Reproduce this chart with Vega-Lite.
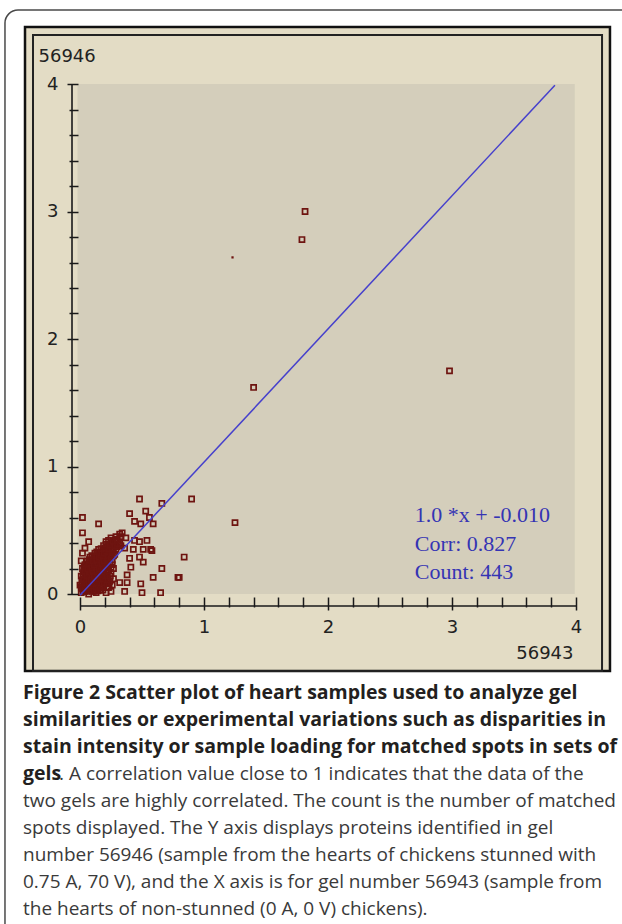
{
  "$schema": "https://vega.github.io/schema/vega-lite/v6.json",
  "width": 496,
  "height": 510,
  "autosize": {"type": "none"},
  "padding": {"left": 80, "top": 84, "right": 46, "bottom": 330},
  "background": "#ffffff",
  "config": {"view": {"stroke": null}},
  "title": {
    "text": [
      "Figure 2 Scatter plot of heart samples used to analyze gel",
      "similarities or experimental variations such as disparities in",
      "stain intensity or sample loading for matched spots in sets of",
      "gels"
    ],
    "subtitle": [
      "two gels are highly correlated. The count is the number of matched",
      "spots displayed. The Y axis displays proteins identified in gel",
      "number 56946 (sample from the hearts of chickens stunned with",
      "0.75 A, 70 V), and the X axis is for gel number 56943 (sample from",
      "the hearts of non-stunned (0 A, 0 V) chickens)."
    ],
    "orient": "bottom",
    "anchor": "start",
    "frame": "group",
    "offset": -260.75,
    "dx": -57,
    "baseline": "top",
    "font": "Open Sans",
    "fontSize": 19.5,
    "fontWeight": "bold",
    "color": "#231f20",
    "lineHeight": 27,
    "subtitleFont": "Open Sans",
    "subtitleFontSize": 19,
    "subtitleFontWeight": "normal",
    "subtitleColor": "#3a3a3a",
    "subtitleLineHeight": 27,
    "subtitlePadding": 7.5
  },
  "datasets": {
    "spots": [
      {"x": 0.01, "y": 0.01}, {"x": 0.04, "y": 0.02}, {"x": 0.07, "y": 0.0}, {"x": 0.1, "y": 0.02}, {"x": 0.13, "y": 0.01}, {"x": 0.16, "y": 0.03}, {"x": 0.21, "y": 0.01}, {"x": 0.25, "y": 0.02},
      {"x": 0.02, "y": 0.04}, {"x": 0.05, "y": 0.05}, {"x": 0.08, "y": 0.03}, {"x": 0.11, "y": 0.05}, {"x": 0.14, "y": 0.04}, {"x": 0.17, "y": 0.06}, {"x": 0.23, "y": 0.05},
      {"x": 0.0, "y": 0.07}, {"x": 0.03, "y": 0.08}, {"x": 0.06, "y": 0.07}, {"x": 0.09, "y": 0.08}, {"x": 0.12, "y": 0.07}, {"x": 0.15, "y": 0.09}, {"x": 0.18, "y": 0.07}, {"x": 0.21, "y": 0.08}, {"x": 0.26, "y": 0.07},
      {"x": 0.02, "y": 0.11}, {"x": 0.05, "y": 0.1}, {"x": 0.08, "y": 0.11}, {"x": 0.11, "y": 0.1}, {"x": 0.14, "y": 0.12}, {"x": 0.17, "y": 0.1}, {"x": 0.2, "y": 0.11}, {"x": 0.24, "y": 0.1},
      {"x": 0.01, "y": 0.14}, {"x": 0.04, "y": 0.13}, {"x": 0.07, "y": 0.14}, {"x": 0.1, "y": 0.13}, {"x": 0.13, "y": 0.15}, {"x": 0.16, "y": 0.13}, {"x": 0.19, "y": 0.14}, {"x": 0.22, "y": 0.13}, {"x": 0.27, "y": 0.12},
      {"x": 0.03, "y": 0.17}, {"x": 0.06, "y": 0.16}, {"x": 0.09, "y": 0.17}, {"x": 0.12, "y": 0.16}, {"x": 0.15, "y": 0.18}, {"x": 0.18, "y": 0.16}, {"x": 0.21, "y": 0.17}, {"x": 0.25, "y": 0.16},
      {"x": 0.02, "y": 0.2}, {"x": 0.05, "y": 0.19}, {"x": 0.08, "y": 0.21}, {"x": 0.11, "y": 0.19}, {"x": 0.14, "y": 0.2}, {"x": 0.17, "y": 0.19}, {"x": 0.2, "y": 0.21}, {"x": 0.23, "y": 0.19}, {"x": 0.27, "y": 0.2},
      {"x": 0.04, "y": 0.23}, {"x": 0.07, "y": 0.22}, {"x": 0.1, "y": 0.24}, {"x": 0.13, "y": 0.22}, {"x": 0.16, "y": 0.23}, {"x": 0.19, "y": 0.22}, {"x": 0.22, "y": 0.24}, {"x": 0.26, "y": 0.23},
      {"x": 0.06, "y": 0.26}, {"x": 0.09, "y": 0.25}, {"x": 0.12, "y": 0.27}, {"x": 0.15, "y": 0.25}, {"x": 0.18, "y": 0.26}, {"x": 0.21, "y": 0.25}, {"x": 0.24, "y": 0.27},
      {"x": 0.08, "y": 0.29}, {"x": 0.11, "y": 0.28}, {"x": 0.14, "y": 0.3}, {"x": 0.17, "y": 0.28}, {"x": 0.2, "y": 0.29}, {"x": 0.23, "y": 0.28}, {"x": 0.27, "y": 0.3},
      {"x": 0.12, "y": 0.32}, {"x": 0.15, "y": 0.31}, {"x": 0.18, "y": 0.33}, {"x": 0.21, "y": 0.31}, {"x": 0.24, "y": 0.32}, {"x": 0.28, "y": 0.31},
      {"x": 0.15, "y": 0.35}, {"x": 0.19, "y": 0.34}, {"x": 0.22, "y": 0.36}, {"x": 0.25, "y": 0.34}, {"x": 0.29, "y": 0.35},
      {"x": 0.19, "y": 0.38}, {"x": 0.23, "y": 0.37}, {"x": 0.26, "y": 0.39}, {"x": 0.3, "y": 0.37}, {"x": 0.33, "y": 0.38},
      {"x": 0.21, "y": 0.41}, {"x": 0.25, "y": 0.4}, {"x": 0.28, "y": 0.42}, {"x": 0.32, "y": 0.4},
      {"x": 0.25, "y": 0.44}, {"x": 0.29, "y": 0.43}, {"x": 0.33, "y": 0.45},
      {"x": 0.025, "y": 0.025}, {"x": 0.055, "y": 0.02}, {"x": 0.085, "y": 0.03}, {"x": 0.115, "y": 0.02}, {"x": 0.145, "y": 0.025}, {"x": 0.185, "y": 0.03},
      {"x": 0.01, "y": 0.055}, {"x": 0.04, "y": 0.06}, {"x": 0.07, "y": 0.05}, {"x": 0.1, "y": 0.06}, {"x": 0.13, "y": 0.055}, {"x": 0.16, "y": 0.05}, {"x": 0.19, "y": 0.06}, {"x": 0.22, "y": 0.055},
      {"x": 0.015, "y": 0.09}, {"x": 0.045, "y": 0.085}, {"x": 0.075, "y": 0.09}, {"x": 0.105, "y": 0.08}, {"x": 0.135, "y": 0.09}, {"x": 0.165, "y": 0.085}, {"x": 0.195, "y": 0.09}, {"x": 0.235, "y": 0.08},
      {"x": 0.03, "y": 0.115}, {"x": 0.06, "y": 0.12}, {"x": 0.09, "y": 0.11}, {"x": 0.12, "y": 0.12}, {"x": 0.155, "y": 0.115}, {"x": 0.185, "y": 0.12}, {"x": 0.215, "y": 0.11},
      {"x": 0.025, "y": 0.15}, {"x": 0.055, "y": 0.14}, {"x": 0.085, "y": 0.15}, {"x": 0.115, "y": 0.145}, {"x": 0.145, "y": 0.14}, {"x": 0.175, "y": 0.15}, {"x": 0.205, "y": 0.145}, {"x": 0.245, "y": 0.14},
      {"x": 0.04, "y": 0.18}, {"x": 0.075, "y": 0.175}, {"x": 0.105, "y": 0.18}, {"x": 0.135, "y": 0.17}, {"x": 0.165, "y": 0.18}, {"x": 0.195, "y": 0.175}, {"x": 0.23, "y": 0.18},
      {"x": 0.035, "y": 0.21}, {"x": 0.065, "y": 0.2}, {"x": 0.095, "y": 0.205}, {"x": 0.125, "y": 0.21}, {"x": 0.155, "y": 0.2}, {"x": 0.185, "y": 0.21}, {"x": 0.215, "y": 0.205}, {"x": 0.25, "y": 0.21},
      {"x": 0.055, "y": 0.235}, {"x": 0.085, "y": 0.24}, {"x": 0.115, "y": 0.23}, {"x": 0.145, "y": 0.24}, {"x": 0.175, "y": 0.235}, {"x": 0.205, "y": 0.24}, {"x": 0.24, "y": 0.23},
      {"x": 0.075, "y": 0.27}, {"x": 0.105, "y": 0.26}, {"x": 0.135, "y": 0.265}, {"x": 0.165, "y": 0.27}, {"x": 0.195, "y": 0.26}, {"x": 0.225, "y": 0.27}, {"x": 0.26, "y": 0.265},
      {"x": 0.095, "y": 0.3}, {"x": 0.125, "y": 0.295}, {"x": 0.155, "y": 0.29}, {"x": 0.185, "y": 0.3}, {"x": 0.215, "y": 0.295}, {"x": 0.25, "y": 0.29},
      {"x": 0.135, "y": 0.33}, {"x": 0.165, "y": 0.325}, {"x": 0.195, "y": 0.32}, {"x": 0.225, "y": 0.33}, {"x": 0.26, "y": 0.325},
      {"x": 0.17, "y": 0.355}, {"x": 0.205, "y": 0.36}, {"x": 0.235, "y": 0.35}, {"x": 0.27, "y": 0.36},
      {"x": 0.21, "y": 0.39}, {"x": 0.245, "y": 0.385}, {"x": 0.28, "y": 0.38}, {"x": 0.31, "y": 0.39},
      {"x": 0.23, "y": 0.42}, {"x": 0.265, "y": 0.415}, {"x": 0.3, "y": 0.42},
      {"x": 0.01, "y": 0.26}, {"x": 0.02, "y": 0.32}, {"x": 0.04, "y": 0.36}, {"x": 0.34, "y": 0.48}, {"x": 0.37, "y": 0.44}, {"x": 0.36, "y": 0.36},
      {"x": 0.02, "y": 0.6}, {"x": 0.15, "y": 0.55}, {"x": 0.02, "y": 0.48}, {"x": 0.07, "y": 0.41},
      {"x": 0.4, "y": 0.63}, {"x": 0.53, "y": 0.65}, {"x": 0.44, "y": 0.57}, {"x": 0.49, "y": 0.55}, {"x": 0.56, "y": 0.6}, {"x": 0.59, "y": 0.55},
      {"x": 0.32, "y": 0.47}, {"x": 0.29, "y": 0.45}, {"x": 0.44, "y": 0.42}, {"x": 0.48, "y": 0.41}, {"x": 0.54, "y": 0.42},
      {"x": 0.43, "y": 0.35}, {"x": 0.51, "y": 0.35}, {"x": 0.57, "y": 0.35}, {"x": 0.4, "y": 0.28}, {"x": 0.48, "y": 0.29}, {"x": 0.51, "y": 0.25},
      {"x": 0.41, "y": 0.21}, {"x": 0.66, "y": 0.2}, {"x": 0.84, "y": 0.29}, {"x": 0.79, "y": 0.13}, {"x": 0.59, "y": 0.13}, {"x": 0.38, "y": 0.15},
      {"x": 0.49, "y": 0.08}, {"x": 0.5, "y": 0.01}, {"x": 0.65, "y": 0.01}, {"x": 0.38, "y": 0.09}, {"x": 0.36, "y": 0.02}, {"x": 0.32, "y": 0.09},
      {"x": 0.48, "y": 0.745}, {"x": 0.66, "y": 0.71}, {"x": 0.9, "y": 0.745}, {"x": 1.25, "y": 0.56}, {"x": 0.58, "y": 0.34}, {"x": 0.8, "y": 0.13},
      {"x": 1.4, "y": 1.62}, {"x": 1.79, "y": 2.78}, {"x": 1.815, "y": 3.0}, {"x": 2.98, "y": 1.75}
    ],
    "fit": [{"x": 0, "y": -0.01}, {"x": 3.83, "y": 3.99}],
    "faint": [{"x": 1.23, "y": 2.64}]
  },
  "layer": [
    {
      "data": {"values": [{}]},
      "mark": {"type": "rect", "cornerRadius": 13, "fill": "#ffffff", "fillOpacity": 0, "stroke": "#4a4a4a", "strokeWidth": 1.5},
      "encoding": {
        "x": {"datum": -0.605, "type": "quantitative", "scale": {"domain": [0, 4], "nice": false, "zero": false}},
        "x2": {"datum": 4.6},
        "y": {"datum": 4.58, "type": "quantitative", "scale": {"domain": [0, 4], "nice": false, "zero": false}},
        "y2": {"datum": -2.745}
      }
    },
    {
      "data": {"values": [{}]},
      "mark": {"type": "rect", "fill": "#e3dcc5", "stroke": "#111111", "strokeWidth": 2.5},
      "encoding": {
        "x": {"datum": -0.4435, "type": "quantitative", "scale": {"domain": [0, 4], "nice": false, "zero": false}},
        "x2": {"datum": 4.274},
        "y": {"datum": 4.447, "type": "quantitative", "scale": {"domain": [0, 4], "nice": false, "zero": false}},
        "y2": {"datum": -0.604}
      }
    },
    {
      "data": {"values": [{}]},
      "mark": {"type": "rect", "fill": "#ffffff", "fillOpacity": 0, "stroke": "#222222", "strokeWidth": 2},
      "encoding": {
        "x": {"datum": -0.379, "type": "quantitative", "scale": {"domain": [0, 4], "nice": false, "zero": false}},
        "x2": {"datum": 4.21},
        "y": {"datum": 4.384, "type": "quantitative", "scale": {"domain": [0, 4], "nice": false, "zero": false}},
        "y2": {"datum": -0.604}
      }
    },
    {
      "data": {"values": [{}]},
      "mark": {"type": "rect", "fill": "#d4cebb"},
      "encoding": {
        "x": {"datum": -0.02, "type": "quantitative", "scale": {"domain": [0, 4], "nice": false, "zero": false}},
        "x2": {"datum": 3.99},
        "y": {"datum": 4.0, "type": "quantitative", "scale": {"domain": [0, 4], "nice": false, "zero": false}},
        "y2": {"datum": 0.0}
      }
    },
    {
      "data": {"values": [{}]},
      "mark": {"type": "rule", "color": "#1a1a1a", "strokeWidth": 1.6},
      "encoding": {
        "x": {"datum": -0.0645, "type": "quantitative", "scale": {"domain": [0, 4], "nice": false, "zero": false}},
        "y": {"datum": 0, "type": "quantitative", "scale": {"domain": [0, 4], "nice": false, "zero": false}},
        "y2": {"datum": 4}
      }
    },
    {
      "data": {"values": [{}]},
      "mark": {"type": "rule", "color": "#1a1a1a", "strokeWidth": 1.6},
      "encoding": {
        "x": {"datum": 0, "type": "quantitative", "scale": {"domain": [0, 4], "nice": false, "zero": false}},
        "x2": {"datum": 4},
        "y": {"datum": -0.094, "type": "quantitative", "scale": {"domain": [0, 4], "nice": false, "zero": false}}
      }
    },
    {
      "data": {"name": "spots"},
      "mark": {"type": "point", "shape": "square", "filled": false, "size": 26, "strokeWidth": 1.7, "color": "#6e1410", "opacity": 1},
      "encoding": {
        "x": {
          "field": "x", "type": "quantitative",
          "scale": {"domain": [0, 4], "nice": false, "zero": false},
          "axis": {
            "values": [0, 0.2, 0.4, 0.6, 0.8, 1, 1.2, 1.4, 1.6, 1.8, 2, 2.2, 2.4, 2.6, 2.8, 3, 3.2, 3.4, 3.6, 3.8, 4],
            "tickCount": 30,
            "labelExpr": "abs(datum.value - round(datum.value)) < 0.001 ? format(datum.value, 'd') : ''",
            "domain": false, "grid": false, "offset": 3,
            "tickColor": "#1a1a1a", "tickWidth": 1.5,
            "tickSize": {"condition": {"test": "abs(datum.value - round(datum.value)) < 0.001", "value": 13}, "value": 10},
            "labelFont": "DejaVu Sans", "labelFontSize": 18, "labelColor": "#222222", "labelPadding": 8,
            "labelFlush": false, "labelOverlap": false, "labelBound": false,
            "title": "56943", "titleX": 493, "titleY": 47, "titleAlign": "right", "titleBaseline": "top",
            "titleFont": "DejaVu Sans", "titleFontSize": 18, "titleFontWeight": "normal", "titleColor": "#222222",
            "zindex": 1
          }
        },
        "y": {
          "field": "y", "type": "quantitative",
          "scale": {"domain": [0, 4], "nice": false, "zero": false},
          "axis": {
            "values": [0, 0.2, 0.4, 0.6, 0.8, 1, 1.2, 1.4, 1.6, 1.8, 2, 2.2, 2.4, 2.6, 2.8, 3, 3.2, 3.4, 3.6, 3.8, 4],
            "tickCount": 30,
            "labelExpr": "abs(datum.value - round(datum.value)) < 0.001 ? format(datum.value, 'd') : ''",
            "domain": false, "grid": false, "offset": 2,
            "tickColor": "#1a1a1a", "tickWidth": 1.5,
            "tickSize": {"condition": {"test": "abs(datum.value - round(datum.value)) < 0.001", "value": 11}, "value": 9},
            "labelFont": "DejaVu Sans", "labelFontSize": 18, "labelColor": "#222222", "labelPadding": 9,
            "labelOverlap": false, "labelBound": false, "labelFlush": false,
            "title": "56946", "titleX": -40, "titleY": -37, "titleAngle": 0, "titleAlign": "left", "titleBaseline": "top",
            "titleFont": "DejaVu Sans", "titleFontSize": 18, "titleFontWeight": "normal", "titleColor": "#222222",
            "zindex": 1
          }
        }
      }
    },
    {
      "data": {"name": "fit"},
      "mark": {"type": "line", "color": "#4640cc", "strokeWidth": 1.5},
      "encoding": {
        "x": {"field": "x", "type": "quantitative", "scale": {"domain": [0, 4], "nice": false, "zero": false}},
        "y": {"field": "y", "type": "quantitative", "scale": {"domain": [0, 4], "nice": false, "zero": false}}
      }
    },
    {
      "data": {"name": "faint"},
      "mark": {"type": "point", "shape": "square", "filled": true, "size": 5, "color": "#6e1410", "opacity": 1},
      "encoding": {
        "x": {"field": "x", "type": "quantitative", "scale": {"domain": [0, 4], "nice": false, "zero": false}},
        "y": {"field": "y", "type": "quantitative", "scale": {"domain": [0, 4], "nice": false, "zero": false}}
      }
    },
    {
      "data": {"values": [{}]},
      "mark": {"type": "text", "align": "left", "baseline": "top", "font": "Liberation Serif", "fontSize": 22, "lineHeight": 28.5, "color": "#3434b4",
        "text": ["1.0 *x + -0.010", "Corr: 0.827", "Count: 443"]},
      "encoding": {
        "x": {"datum": 2.7, "type": "quantitative", "scale": {"domain": [0, 4], "nice": false, "zero": false}},
        "y": {"datum": 0.698, "type": "quantitative", "scale": {"domain": [0, 4], "nice": false, "zero": false}}
      }
    },
    {
      "data": {"values": [{}]},
      "mark": {"type": "text", "align": "left", "baseline": "alphabetic", "font": "Open Sans", "fontSize": 19, "color": "#3a3a3a",
        "text": ". A correlation value close to 1 indicates that the data of the"},
      "encoding": {
        "x": {"datum": -0.169, "type": "quantitative", "scale": {"domain": [0, 4], "nice": false, "zero": false}},
        "y": {"datum": -1.462, "type": "quantitative", "scale": {"domain": [0, 4], "nice": false, "zero": false}}
      }
    }
  ]
}
